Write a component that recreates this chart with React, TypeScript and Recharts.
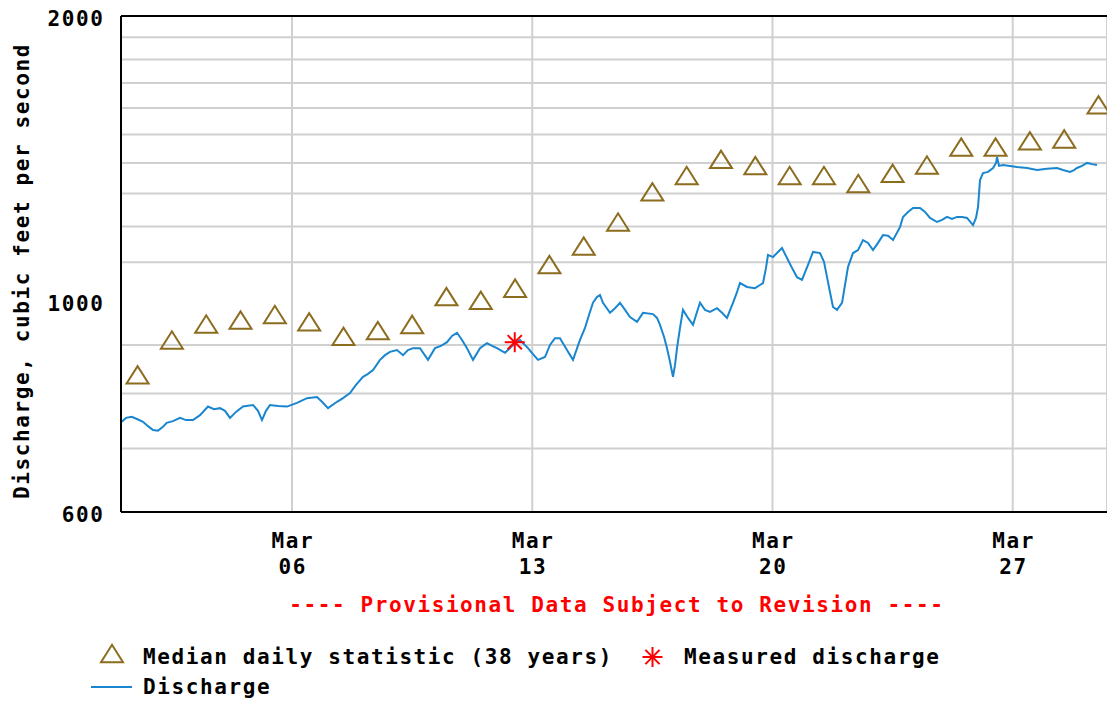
import React from "react";
import {
  ComposedChart,
  Line,
  Scatter,
  XAxis,
  YAxis,
  CartesianGrid,
  ReferenceLine,
  Label,
} from "recharts";

// ---- data (day offsets from Mar 01 00:00, values in cubic feet per second) ----
const dischargeDays = [
  0.037, 0.163, 0.329, 0.483, 0.658, 0.804, 0.949, 1.095, 1.241, 1.349, 1.532, 1.736, 1.911, 2.115,
  2.319, 2.552, 2.727, 2.902, 3.047, 3.193, 3.368, 3.572, 3.863, 4.009, 4.125, 4.242, 4.358, 4.592,
  4.854, 5.145, 5.437, 5.728, 5.874, 6.049, 6.311, 6.486, 6.69, 6.865, 7.069, 7.214, 7.36, 7.564,
  7.709, 7.855, 8.059, 8.234, 8.38, 8.525, 8.729, 8.962, 9.166, 9.341, 9.516, 9.662, 9.807, 9.953,
  10.099, 10.274, 10.478, 10.681, 10.827, 10.973, 11.206, 11.322, 11.439, 11.643, 11.876, 12.022,
  12.167, 12.371, 12.517, 12.663, 12.808, 13.012, 13.187, 13.391, 13.537, 13.653, 13.77, 13.886,
  13.974, 14.061, 14.265, 14.411, 14.557, 14.703, 14.848, 15.052, 15.227, 15.518, 15.635, 15.722,
  15.839, 15.926, 16.014, 16.101, 16.159, 16.218, 16.305, 16.392, 16.538, 16.684, 16.8, 16.888,
  17.033, 17.179, 17.383, 17.529, 17.674, 17.849, 17.966, 18.053, 18.257, 18.49, 18.636, 18.724,
  18.811, 18.869, 19.015, 19.161, 19.277, 19.452, 19.598, 19.714, 19.86, 20.035, 20.181, 20.385,
  20.501, 20.589, 20.676, 20.763, 20.88, 21.026, 21.113, 21.201, 21.346, 21.492, 21.638, 21.783,
  21.929, 22.075, 22.22, 22.366, 22.512, 22.716, 22.803, 22.949, 23.095, 23.299, 23.444, 23.59,
  23.794, 23.94, 24.085, 24.231, 24.377, 24.523, 24.668, 24.843, 24.93, 24.989, 25.047, 25.134,
  25.28, 25.426, 25.513, 25.542, 25.601, 25.717, 25.921, 26.125, 26.416, 26.708, 26.999, 27.29,
  27.465, 27.669, 27.786, 27.873, 28.019, 28.165, 28.31, 28.456,
];
const dischargeCfs = [
  747, 754, 756, 752, 747, 739, 732, 731, 738, 745, 748, 754, 750, 750,
  759, 775, 770, 772, 767, 754, 765, 775, 778, 767, 750, 767, 778, 776,
  775, 782, 791, 793, 784, 772, 784, 791, 801, 817, 833, 839, 847, 868,
  878, 885, 889, 878, 889, 893, 893, 868, 893, 898, 906, 920, 927, 911,
  893, 868, 893, 904, 898, 893, 883, 891, 900, 911, 893, 880,
  868, 874, 900, 915, 915, 889, 868, 911, 938, 968, 997, 1011,
  1016, 997, 973, 984, 997, 980, 963, 952, 973, 970, 961, 945,
  918, 893, 864, 833, 857, 893, 938, 980, 961, 945, 975, 997,
  980, 975, 984, 973, 961, 997, 1023, 1046, 1036, 1033, 1041, 1046,
  1085, 1120, 1114, 1128, 1139, 1106, 1080, 1061, 1054, 1093, 1128, 1125,
  1101, 1061, 1023, 987, 980, 997, 1041, 1088, 1125, 1133, 1161, 1153,
  1133, 1153, 1175, 1173, 1161, 1198, 1228, 1243, 1255, 1255, 1243, 1225,
  1213, 1219, 1228, 1222, 1228, 1228, 1225, 1204, 1225, 1258, 1343, 1366,
  1370, 1383, 1400, 1420, 1390, 1393, 1390, 1386, 1383, 1376, 1380, 1383,
  1376, 1370, 1376, 1383, 1390, 1400, 1396, 1393,
];

const medianDays = [
  0.5, 1.5, 2.5, 3.5, 4.5, 5.5, 6.5, 7.5, 8.5, 9.5, 10.5, 11.5, 12.5, 13.5, 14.5,
  15.5, 16.5, 17.5, 18.5, 19.5, 20.5, 21.5, 22.5, 23.5, 24.5, 25.5, 26.5, 27.5, 28.5,
];
const medianCfs = [
  837, 911, 947, 956, 969, 952, 919, 932, 946, 1012, 1003, 1033, 1094, 1144, 1213,
  1305, 1358, 1412, 1391, 1358, 1358, 1332, 1365, 1393, 1455, 1455, 1477, 1484, 1612,
];

const measuredDays = [11.49];
const measuredCfs = [906];

const xTickDays = [5, 12, 19, 26];
const xTickLabels = [["Mar", "06"], ["Mar", "13"], ["Mar", "20"], ["Mar", "27"]];
const yTicks = [600, 1000, 2000];
const yGridValues = [700, 800, 900, 1100, 1200, 1300, 1400, 1500, 1600, 1700, 1800, 1900];

const yAxisTitle = "Discharge, cubic feet per second";
const provisionalText = "---- Provisional Data Subject to Revision ----";
const legendMedian = "Median daily statistic (38 years)";
const legendMeasured = "Measured discharge";
const legendDischarge = "Discharge";

// ---- build series ----
const dischargeData = dischargeDays.map((d, i) => ({ d, v: dischargeCfs[i] }));
const medianData = medianDays.map((d, i) => ({ d, v: medianCfs[i] }));
const measuredData = measuredDays.map((d, i) => ({ d, v: measuredCfs[i] }));

const FONT = "'DejaVu Sans Mono', monospace";
const LS = 1.6;
const FS = 21;
const BLUE = "#1a86d0";
const BROWN = "#8c6c1e";
const GRID = "#d0d0d0";

const textStyle: React.CSSProperties = {
  fontFamily: FONT,
  fontWeight: "bold",
  fontSize: FS,
  letterSpacing: LS,
};

const Triangle = (cx: number, cy: number) => {
  const w = 11;
  const h = 8.7;
  return (
    <polygon
      points={`${cx - w},${cy + h} ${cx + w},${cy + h} ${cx},${cy - h}`}
      fill="none"
      stroke={BROWN}
      strokeWidth={2}
    />
  );
};

const Asterisk = (cx: number, cy: number) => {
  const r = 10;
  const q = 7.1;
  return (
    <g stroke="#ff0000" strokeWidth={2}>
      <line x1={cx - r} y1={cy} x2={cx + r} y2={cy} />
      <line x1={cx} y1={cy - r} x2={cx} y2={cy + r} />
      <line x1={cx - q} y1={cy - q} x2={cx + q} y2={cy + q} />
      <line x1={cx - q} y1={cy + q} x2={cx + q} y2={cy - q} />
    </g>
  );
};

const TriangleShape = (props: any) => Triangle(props.cx, props.cy);
const AsteriskShape = (props: any) => Asterisk(props.cx, props.cy);

const XTick = (props: any) => {
  const { x, payload } = props;
  const idx = xTickDays.indexOf(payload.value);
  const lines = idx >= 0 ? xTickLabels[idx] : ["", ""];
  return (
    <g>
      <text x={x + LS / 2} y={547.5} textAnchor="middle" fill="#000" style={textStyle}>
        {lines[0]}
      </text>
      <text x={x + LS / 2} y={574} textAnchor="middle" fill="#000" style={textStyle}>
        {lines[1]}
      </text>
    </g>
  );
};

const YTick = (props: any) => {
  const { y, payload } = props;
  return (
    <text x={104.6} y={y + 9.5} textAnchor="end" fill="#000" style={textStyle}>
      {payload.value}
    </text>
  );
};

export default function App() {
  return (
    <div style={{ position: "absolute", left: 0, top: 0, width: 1107, height: 702, background: "#fff" }}>
      <ComposedChart
        width={1107}
        height={702}
        margin={{ top: 16, right: 0, left: 0, bottom: 0 }}
      >
        <CartesianGrid horizontal={false} vertical={true} stroke={GRID} strokeWidth={2} strokeDasharray="" />
        <XAxis
          type="number"
          dataKey="d"
          domain={[0.017, 28.747]}
          allowDataOverflow
          ticks={xTickDays}
          tick={<XTick />}
          tickLine={false}
          axisLine={{ stroke: "#000", strokeWidth: 2 }}
          height={190}
          interval={0}
        />
        <YAxis
          type="number"
          dataKey="v"
          scale="log"
          domain={[600, 2000]}
          allowDataOverflow
          ticks={yTicks}
          tick={<YTick />}
          tickLine={false}
          axisLine={{ stroke: "#000", strokeWidth: 2 }}
          width={121}
          interval={0}
        >
          <Label
            content={() => (
              <text
                transform="translate(29,271) rotate(-90)"
                textAnchor="middle"
                fill="#000"
                style={textStyle}
              >
                {yAxisTitle}
              </text>
            )}
          />
        </YAxis>
        {yGridValues.map((v) => (
          <ReferenceLine key={v} y={v} stroke={GRID} strokeWidth={2} />
        ))}
        <ReferenceLine y={2000} stroke="#000" strokeWidth={2} />
        <Line
          data={dischargeData}
          dataKey="v"
          type="linear"
          stroke={BLUE}
          strokeWidth={2}
          dot={false}
          activeDot={false}
          isAnimationActive={false}
        />
        <Scatter
          data={medianData}
          dataKey="v"
          shape={TriangleShape}
          isAnimationActive={false}
        />
        <Scatter
          data={measuredData}
          dataKey="v"
          shape={AsteriskShape}
          isAnimationActive={false}
        />
      </ComposedChart>
      <svg
        width={1107}
        height={702}
        style={{ position: "absolute", left: 0, top: 0, pointerEvents: "none" }}
      >
        <text x={616 + LS / 2} y={611.5} textAnchor="middle" fill="#ff0000" style={textStyle}>
          {provisionalText}
        </text>
        {Triangle(112, 653.5)}
        <text x={143} y={664} fill="#000" style={textStyle}>
          {legendMedian}
        </text>
        {Asterisk(652.5, 657)}
        <text x={684} y={664} fill="#000" style={textStyle}>
          {legendMeasured}
        </text>
        <line x1={91} y1={687} x2={132} y2={687} stroke={BLUE} strokeWidth={2} />
        <text x={143} y={694} fill="#000" style={textStyle}>
          {legendDischarge}
        </text>
      </svg>
    </div>
  );
}
